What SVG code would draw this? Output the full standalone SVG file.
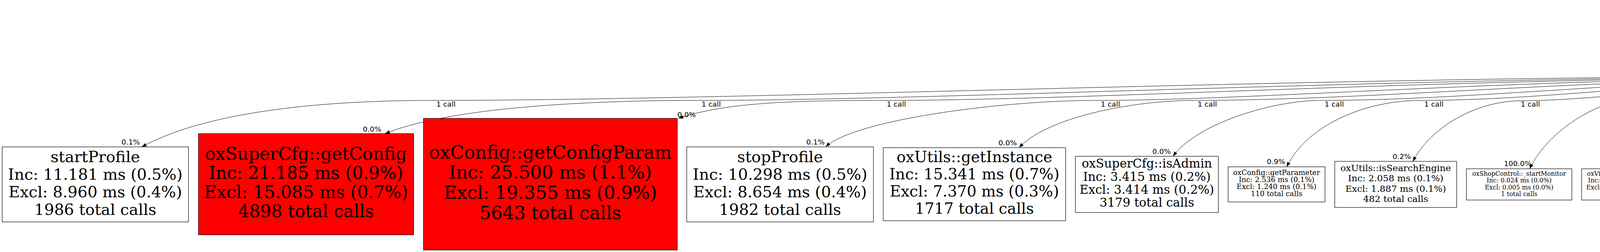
<svg xmlns="http://www.w3.org/2000/svg" width="7736" height="645" viewBox="0 0 7736 645">
<defs>
<style>
.nd rect{stroke:#000;stroke-width:1.2;fill:#fff}
.nd.y rect{fill:#ffff00}
.nd.r rect{fill:#ff0000}
.nd text{font-family:"DejaVu Serif",serif;text-anchor:middle;fill:#000}
.nd.s text{font-family:"DejaVu Sans",sans-serif;font-size:16.5px}
.e{fill:none;stroke:#000;stroke-width:1}
.ea{fill:none;stroke:#000;stroke-width:1;marker-end:url(#ah)}
.lb{font-family:"DejaVu Sans",sans-serif;font-size:18.5px;fill:#000}
</style>
<marker id="ah" markerUnits="userSpaceOnUse" markerWidth="14" markerHeight="12" viewBox="-13 -6 14 12" refX="0" refY="0" orient="auto">
<path d="M0,0 L-12,-4.6 L-12,4.6 z" fill="#000"/>
</marker>
</defs>
<rect x="0" y="0" width="7736" height="645" fill="#fff"/>

<g id="edges">
<!-- start -> _process (critical path) -->
<line x1="4697" y1="85" x2="4697" y2="128" stroke="#000" stroke-width="13"/>
<polygon points="4671,126 4723,126 4697,153" fill="#000" stroke="#000" stroke-width="4" stroke-linejoin="round"/>
<text class="lb" x="4637" y="100">99.9%</text>
<text class="lb" x="4699" y="124">1 call</text>
<text class="lb" x="4625" y="148">100.0%</text>

<path class="ea" d="M4582,196 C3400,196 1900,257 1109,257 C800,257 520,290 363,376"/>
<path class="ea" d="M4582,198 C3600,198 2400,257 1788,257 C1500,257 1150,275 986,342"/>
<path class="ea" d="M4582,200 C3700,200 2800,257 2262,257 C2000,257 1850,265 1737,303"/>
<path class="ea" d="M4582,201 C3900,201 3200,257 2810,257 C2550,257 2180,310 2114,376"/>
<path class="ea" d="M4582,203 C4050,203 3500,257 3058,257 C2900,257 2680,300 2609,378"/>
<path class="ea" d="M4582,205 C4200,205 3750,257 3383,257 C3250,257 3060,320 3003,400"/>
<path class="ea" d="M4582,207 C4300,207 3950,257 3638,257 C3480,257 3340,330 3294,427"/>
<path class="ea" d="M4582,210 C4400,210 4100,258 3885,258 C3770,262 3660,330 3617,413"/>
<path class="ea" d="M4582,214 C4480,214 4300,258 4163,258 C4080,262 3960,340 3916,432"/>
<path class="ea" d="M4582,220 C4500,222 4420,250 4329,258 C4280,268 4190,350 4167,432"/>
<path class="ea" d="M4622,234 C4560,290 4450,340 4419,432"/>
<path class="ea" d="M4697,234 L4697,432"/>
<path class="ea" d="M4775,234 C4840,285 4930,340 4967,432"/>
<path class="ea" d="M4812,214 C4900,230 5000,250 5040,265 C5130,300 5210,360 5245,432"/>
<path class="ea" d="M4812,209 C5000,215 5200,235 5330,258 C5450,280 5520,350 5549,432"/>
<path class="e" d="M4812,198 C5150,198 5420,215 5560,260 C5680,300 5740,355 5770,405" stroke-width="12"/>
<polygon points="5750,416 5790,393 5787,433" fill="#000" stroke="#000" stroke-width="5" stroke-linejoin="round"/>
<path class="ea" d="M4812,203 C5300,205 5650,225 5800,255 C5930,285 6000,350 6030,432"/>
<path class="ea" d="M4812,201 C5500,201 5900,235 6080,262 C6160,280 6235,360 6265,432"/>
<path class="ea" d="M4812,200 C5600,200 6150,235 6320,258 C6420,275 6495,340 6523,413"/>
<path class="ea" d="M4812,199 C5800,199 6450,230 6640,258 C6740,280 6790,350 6815,432"/>
<path class="ea" d="M4812,198 C6000,198 6650,235 6870,265 C6960,285 7030,360 7056,432"/>
<path class="ea" d="M4812,197 C6200,197 6950,230 7130,262 C7230,285 7300,350 7335,432"/>
<path class="ea" d="M4812,196 C6500,196 7200,255 7400,262 C7500,268 7580,340 7607,432"/>

<!-- call count labels -->
<text class="lb" x="1117" y="273">1 call</text>
<text class="lb" x="1796" y="273">1 call</text>
<text class="lb" x="2270" y="273">1 call</text>
<text class="lb" x="2818" y="273">1 call</text>
<text class="lb" x="3066" y="273">1 call</text>
<text class="lb" x="3391" y="273">1 call</text>
<text class="lb" x="3646" y="273">1 call</text>
<text class="lb" x="3893" y="273">1 call</text>
<text class="lb" x="4171" y="273">1 call</text>
<text class="lb" x="4337" y="273">1 call</text>
<text class="lb" x="4582" y="273">1 call</text>
<text class="lb" x="4698" y="273">1 call</text>
<text class="lb" x="4845" y="273">1 call</text>
<text class="lb" x="5052" y="273">1 call</text>
<text class="lb" x="5397" y="273">1 call</text>
<text class="lb" x="5621" y="273">1 call</text>
<text class="lb" x="5853" y="273">1 call</text>
<text class="lb" x="6114" y="273">1 call</text>
<text class="lb" x="6354" y="273">1 call</text>
<text class="lb" x="6672" y="273">1 call</text>
<text class="lb" x="6893" y="273">1 call</text>
<text class="lb" x="7157" y="273">1 call</text>
<text class="lb" x="7456" y="273">1 call</text>

<!-- head labels -->
<text class="lb" x="311" y="370">0.1%</text>
<text class="lb" x="929" y="337">0.0%</text>
<text class="lb" x="1734" y="300">0.0%</text>
<text class="lb" x="2064" y="370">0.1%</text>
<text class="lb" x="2556" y="372">0.0%</text>
<text class="lb" x="2950" y="394">0.0%</text>
<text class="lb" x="3243" y="420">0.9%</text>
<text class="lb" x="3565" y="407">0.2%</text>
<text class="lb" x="3850" y="425">100.0%</text>
<text class="lb" x="4116" y="425">5.3%</text>
<text class="lb" x="4355" y="425">10.0%</text>
<text class="lb" x="4625" y="425">100.0%</text>
<text class="lb" x="4907" y="425">33.3%</text>
<text class="lb" x="5197" y="425">0.0%</text>
<text class="lb" x="5501" y="425">0.4%</text>
<text class="lb" x="5713" y="425">100.0%</text>
<text class="lb" x="5958" y="425">100.0%</text>
<text class="lb" x="6194" y="425">100.0%</text>
<text class="lb" x="6451" y="407">100.0%</text>
<text class="lb" x="6743" y="425">100.0%</text>
<text class="lb" x="6984" y="425">100.0%</text>
<text class="lb" x="7262" y="425">100.0%</text>
<text class="lb" x="7535" y="425">100.0%</text>

<!-- tail labels -->
<text class="lb" x="4533" y="188">0.0%</text>
<text class="lb" x="4533" y="205">0.0%</text>
<text class="lb" x="4533" y="208">0.0%</text>
<text class="lb" x="4536" y="210">0.0%</text>
<text class="lb" x="4540" y="212">0.0%</text>
<text class="lb" x="4583" y="190">0.0%</text>
<text class="lb" x="4585" y="192">0.0%</text>
<text class="lb" x="4583" y="213">0.0%</text>
<text class="lb" x="4763" y="190">0.0%</text>
<text class="lb" x="4763" y="212">0.0%</text>
<text class="lb" x="4765" y="214">0.0%</text>
<text class="lb" x="4812" y="190">0.1%</text>
<text class="lb" x="4816" y="188">0.0%</text>
<text class="lb" x="4818" y="192">0.0%</text>
<text class="lb" x="4812" y="210">0.0%</text>
<text class="lb" x="4820" y="212">0.0%</text>
<text class="lb" x="4826" y="210">0.0%</text>
<text class="lb" x="4812" y="226">0.0%</text>
<text class="lb" x="4572" y="248">0.0%</text>
<text class="lb" x="4637" y="248">39.9%</text>
<text class="lb" x="4727" y="248">0.0%</text>
</g>

<g id="n_start" class="nd y s">
<rect x="4582" y="5" width="230" height="80"/>
<text x="4697" y="22.7">oxShopControl::start</text>
<text x="4697" y="40">Inc: 2077.518 ms (92.3%)</text>
<text x="4697" y="57.3">Excl: 0.020 ms (0.0%)</text>
<text x="4697" y="74.5">1 total calls</text>
</g>
<g id="n_process" class="nd y s">
<rect x="4582" y="154" width="230" height="80"/>
<text x="4697" y="172.3">oxShopControl::_process</text>
<text x="4697" y="189.5">Inc: 2076.011 ms (92.2%)</text>
<text x="4697" y="206.7">Excl: 0.128 ms (0.0%)</text>
<text x="4697" y="224">1 total calls</text>
</g>

<g id="n_startProfile" class="nd" font-size="40">
<rect x="5.5" y="376" width="477" height="192"/>
<text x="244" y="414.5">startProfile</text>
<text x="244" y="459.5">Inc: 11.181 ms (0.5%)</text>
<text x="244" y="504.5">Excl: 8.960 ms (0.4%)</text>
<text x="244" y="549.5">1986 total calls</text>
</g>
<g id="n_getConfig" class="nd r" font-size="44.5">
<rect x="508" y="342" width="551" height="259"/>
<text x="783.5" y="409.1">oxSuperCfg::getConfig</text>
<text x="783.5" y="458.1">Inc: 21.185 ms (0.9%)</text>
<text x="783.5" y="507.1">Excl: 15.085 ms (0.7%)</text>
<text x="783.5" y="556.1">4898 total calls</text>
</g>
<g id="n_getConfigParam" class="nd r" font-size="46.5">
<rect x="1084" y="303" width="650" height="337"/>
<text x="1409" y="405.5">oxConfig::getConfigParam</text>
<text x="1409" y="457.2">Inc: 25.500 ms (1.1%)</text>
<text x="1409" y="508.9">Excl: 19.355 ms (0.9%)</text>
<text x="1409" y="560.7">5643 total calls</text>
</g>
<g id="n_stopProfile" class="nd" font-size="40">
<rect x="1758" y="376" width="478" height="192"/>
<text x="1997" y="414.5">stopProfile</text>
<text x="1997" y="459.5">Inc: 10.298 ms (0.5%)</text>
<text x="1997" y="504.5">Excl: 8.654 ms (0.4%)</text>
<text x="1997" y="549.5">1982 total calls</text>
</g>
<g id="n_getInstance" class="nd" font-size="39">
<rect x="2261" y="378" width="467" height="187"/>
<text x="2494.5" y="414.5">oxUtils::getInstance</text>
<text x="2494.5" y="458.5">Inc: 15.341 ms (0.7%)</text>
<text x="2494.5" y="502.5">Excl: 7.370 ms (0.3%)</text>
<text x="2494.5" y="546.5">1717 total calls</text>
</g>
<g id="n_isAdmin" class="nd" font-size="31">
<rect x="2753" y="400" width="366" height="144"/>
<text x="2936" y="429.3">oxSuperCfg::isAdmin</text>
<text x="2936" y="462.6">Inc: 3.415 ms (0.2%)</text>
<text x="2936" y="495.9">Excl: 3.414 ms (0.2%)</text>
<text x="2936" y="529.2">3179 total calls</text>
</g>
<g id="n_getParameter" class="nd" font-size="18.4">
<rect x="3144" y="427" width="248" height="90"/>
<text x="3268" y="447.5">oxConfig::getParameter</text>
<text x="3268" y="465.5">Inc: 2.536 ms (0.1%)</text>
<text x="3268" y="483.5">Excl: 1.240 ms (0.1%)</text>
<text x="3268" y="501.5">110 total calls</text>
</g>
<g id="n_isSearchEngine" class="nd" font-size="23.2">
<rect x="3417" y="413" width="312" height="118"/>
<text x="3573" y="437.5">oxUtils::isSearchEngine</text>
<text x="3573" y="464">Inc: 2.058 ms (0.1%)</text>
<text x="3573" y="490.5">Excl: 1.887 ms (0.1%)</text>
<text x="3573" y="517">482 total calls</text>
</g>
<g id="n_startMonitor" class="nd" font-size="15.8">
<rect x="3754" y="432" width="270" height="80"/>
<text x="3889" y="450">oxShopControl::_startMonitor</text>
<text x="3889" y="467.4">Inc: 0.024 ms (0.0%)</text>
<text x="3889" y="484.8">Excl: 0.005 ms (0.0%)</text>
<text x="3889" y="502.2">1 total calls</text>
</g>
<g id="n_getFncName" class="nd" font-size="15.8">
<rect x="4049" y="432" width="199" height="80"/>
<text x="4148.5" y="450">oxView::getFncName</text>
<text x="4148.5" y="467.4">Inc: 0.019 ms (0.0%)</text>
<text x="4148.5" y="484.8">Excl: 0.019 ms (0.0%)</text>
<text x="4148.5" y="502.2">18 total calls</text>
</g>
<g id="n_executeFunction" class="nd" font-size="15.8">
<rect x="4274" y="432" width="233" height="80"/>
<text x="4390.5" y="450">oxView::executeFunction</text>
<text x="4390.5" y="467.4">Inc: 0.010 ms (0.0%)</text>
<text x="4390.5" y="484.8">Excl: 0.010 ms (0.0%)</text>
<text x="4390.5" y="502.2">9 total calls</text>
</g>
<g id="n_initializeViewObject" class="nd" font-size="15.8">
<rect x="4533" y="432" width="329" height="80"/>
<text x="4697.5" y="450">oxShopControl::_initializeViewObject</text>
<text x="4697.5" y="467.4">Inc: 829.289 ms (36.8%)</text>
<text x="4697.5" y="484.8">Excl: 0.028 ms (0.0%)</text>
<text x="4697.5" y="502.2">1 total calls</text>
</g>
<g id="n_getViewData" class="nd" font-size="15.8">
<rect x="4888" y="432" width="200" height="80"/>
<text x="4988" y="450">oxView::getViewData</text>
<text x="4988" y="467.4">Inc: 0.006 ms (0.0%)</text>
<text x="4988" y="484.8">Excl: 0.006 ms (0.0%)</text>
<text x="4988" y="502.2">3 total calls</text>
</g>
<g id="n_getOutputManager" class="nd" font-size="15.8">
<rect x="5113" y="432" width="328" height="80"/>
<text x="5277" y="450">oxShopControl::_getOutputManager</text>
<text x="5277" y="467.4">Inc: 8.861 ms (0.4%)</text>
<text x="5277" y="484.8">Excl: 0.012 ms (0.0%)</text>
<text x="5277" y="502.2">2 total calls</text>
</g>
<g id="n_getCharSet" class="nd" font-size="15.8">
<rect x="5466" y="432" width="199" height="80"/>
<text x="5565.5" y="450">oxView::getCharSet</text>
<text x="5565.5" y="467.4">Inc: 0.469 ms (0.0%)</text>
<text x="5565.5" y="484.8">Excl: 0.019 ms (0.0%)</text>
<text x="5565.5" y="502.2">2 total calls</text>
</g>
<g id="n_render" class="nd y" font-size="15.8">
<rect x="5691" y="432" width="229" height="80"/>
<text x="5805.5" y="450">oxShopControl::_render</text>
<text x="5805.5" y="467.4">Inc: 1225.506 ms (54.5%)</text>
<text x="5805.5" y="484.8">Excl: 0.230 ms (0.0%)</text>
<text x="5805.5" y="502.2">1 total calls</text>
</g>
<g id="n_setCharset" class="nd" font-size="15.8">
<rect x="5944" y="432" width="204" height="80"/>
<text x="6046" y="450">oxOutput::setCharset</text>
<text x="6046" y="467.4">Inc: 0.002 ms (0.0%)</text>
<text x="6046" y="484.8">Excl: 0.002 ms (0.0%)</text>
<text x="6046" y="502.2">1 total calls</text>
</g>
<g id="n_sendHeaders" class="nd" font-size="15.8">
<rect x="6172" y="432" width="223" height="80"/>
<text x="6283.5" y="450">oxOutput::sendHeaders</text>
<text x="6283.5" y="467.4">Inc: 0.029 ms (0.0%)</text>
<text x="6283.5" y="484.8">Excl: 0.014 ms (0.0%)</text>
<text x="6283.5" y="502.2">1 total calls</text>
</g>
<g id="n_output" class="nd" font-size="23.4">
<rect x="6419" y="413" width="286" height="118"/>
<text x="6562" y="437.5">oxOutput::output</text>
<text x="6562" y="464">Inc: 2.019 ms (0.1%)</text>
<text x="6562" y="490.5">Excl: 2.019 ms (0.1%)</text>
<text x="6562" y="517">1 total calls</text>
</g>
<g id="n_pageClose" class="nd" font-size="15.8">
<rect x="6731" y="432" width="199" height="80"/>
<text x="6830.5" y="450">oxConfig::pageClose</text>
<text x="6830.5" y="467.4">Inc: 18.901 ms (0.8%)</text>
<text x="6830.5" y="484.8">Excl: 0.012 ms (0.0%)</text>
<text x="6830.5" y="502.2">1 total calls</text>
</g>
<g id="n_getIsCallForCache" class="nd" font-size="15.8">
<rect x="6954" y="432" width="246" height="80"/>
<text x="7077" y="450">oxView::getIsCallForCache</text>
<text x="7077" y="467.4">Inc: 0.003 ms (0.0%)</text>
<text x="7077" y="484.8">Excl: 0.003 ms (0.0%)</text>
<text x="7077" y="502.2">1 total calls</text>
</g>
<g id="n_stopMonitor" class="nd" font-size="15.8">
<rect x="7224" y="432" width="268" height="80"/>
<text x="7358" y="450">oxShopControl::_stopMonitor</text>
<text x="7358" y="467.4">Inc: 0.038 ms (0.0%)</text>
<text x="7358" y="484.8">Excl: 0.007 ms (0.0%)</text>
<text x="7358" y="502.2">1 total calls</text>
</g>
<g id="n_flushOutput" class="nd" font-size="15.8">
<rect x="7517" y="432" width="213" height="80"/>
<text x="7623.5" y="450">oxOutput::flushOutput</text>
<text x="7623.5" y="467.4">Inc: 0.005 ms (0.0%)</text>
<text x="7623.5" y="484.8">Excl: 0.005 ms (0.0%)</text>
<text x="7623.5" y="502.2">1 total calls</text>
</g>
</svg>
